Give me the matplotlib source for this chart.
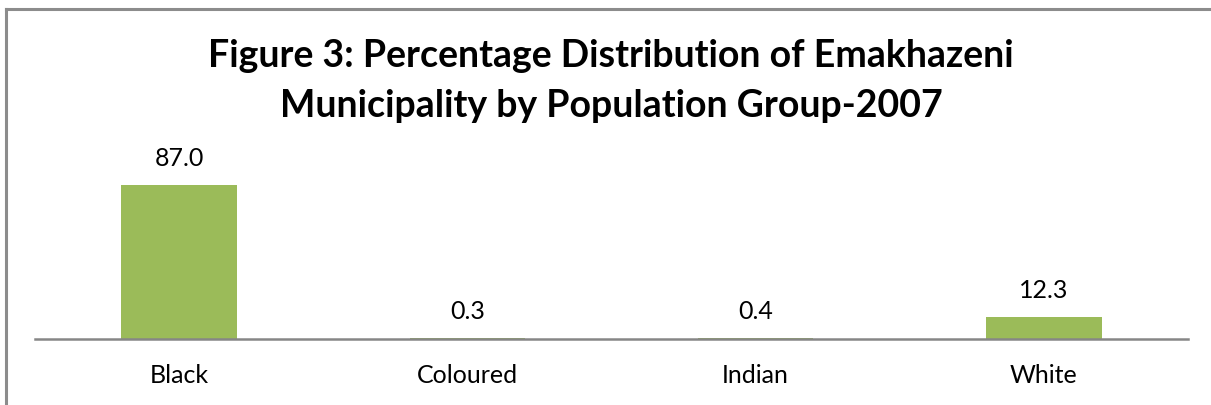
import matplotlib
matplotlib.use('Agg')
import matplotlib.pyplot as plt
from matplotlib.lines import Line2D

groups = ['Black', 'Coloured', 'Indian', 'White']
pct = [87.0, 0.3, 0.4, 12.3]
title_lines = ['Figure 3: Percentage Distribution of Emakhazeni',
               'Municipality by Population Group-2007']

plt.rcParams['font.family'] = ['Lato', 'DejaVu Sans']

W, H = 1211, 405
fig = plt.figure(figsize=(W / 100, H / 100), dpi=100)

# chart border (only top and left edges visible in the crop)
fig.add_artist(Line2D([6 / W, 6 / W], [0, 1 - 9 / H], color='#8c8c8c', lw=2.2))
fig.add_artist(Line2D([6 / W, 1], [1 - 9 / H, 1 - 9 / H], color='#8c8c8c', lw=2.2))

ax = fig.add_axes([35 / W, 1 - 339 / H, (1188 - 35) / W, 177 / H])
x = list(range(len(groups)))
bars = ax.bar(x, pct, width=0.4, color='#9bbb59')
ax.set_xlim(-0.5, 3.5)
ax.set_ylim(0, 100)

px = 72 / 100  # points per pixel
for b, v in zip(bars, pct):
    ax.annotate('%.1f' % v, (b.get_x() + b.get_width() / 2, v),
                xytext=(0, 19 * px), textcoords='offset points',
                ha='center', va='baseline', fontsize=18)

for i, g in zip(x, groups):
    ax.annotate(g, (i, 0), xytext=(0, -44 * px), textcoords='offset points',
                ha='center', va='baseline', fontsize=18)

for s in ['top', 'right', 'left']:
    ax.spines[s].set_visible(False)
ax.spines['bottom'].set_color('#868686')
ax.spines['bottom'].set_linewidth(1.8)
ax.set_yticks([])
ax.set_xticks([])

fig.text(611 / W, 1 - 67 / H, title_lines[0], ha='center', va='baseline',
         fontsize=27, fontweight='bold')
fig.text(611 / W, 1 - 117 / H, title_lines[1], ha='center', va='baseline',
         fontsize=27, fontweight='bold')

fig.savefig('out.png', dpi=100)
